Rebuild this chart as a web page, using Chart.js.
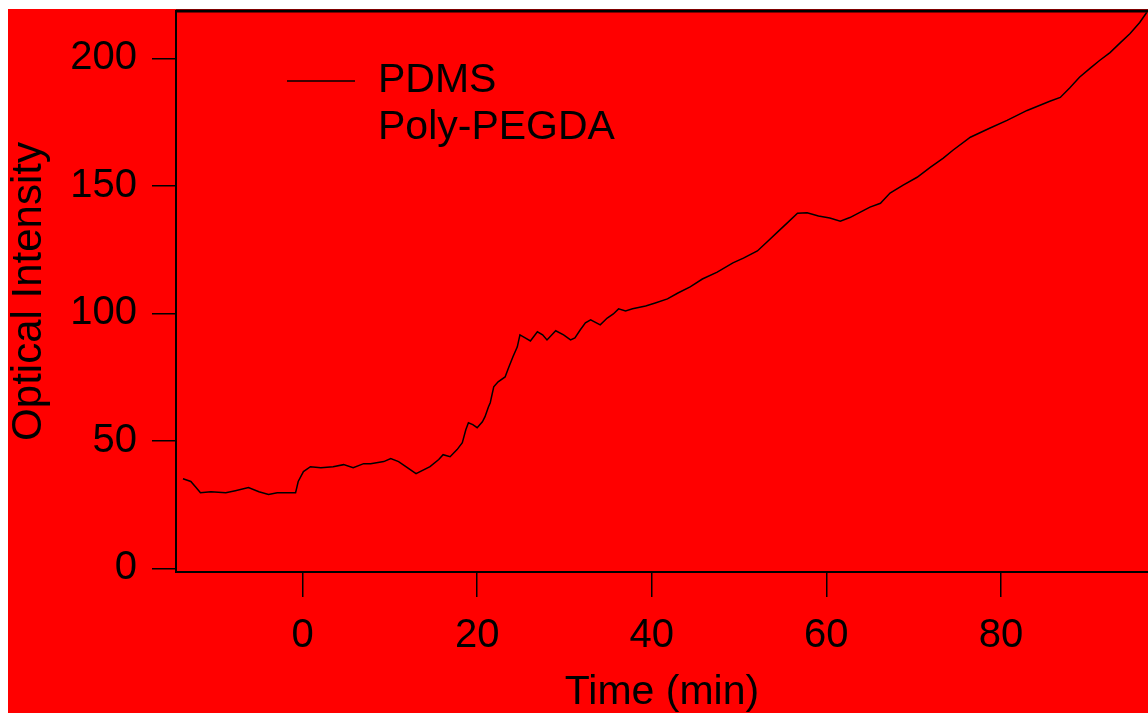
<!DOCTYPE html>
<html>
<head>
<meta charset="utf-8">
<title>Optical Intensity</title>
<script src="https://cdn.jsdelivr.net/npm/chart.js@4.4.1/dist/chart.umd.min.js"></script>
<style>
html, body { margin:0; padding:0; background:#ffffff; overflow:hidden; }
#plot { position:absolute; left:8px; top:9px; }
</style>
</head>
<body>
<canvas id="plot" width="1140" height="704"></canvas>
<script>
// ========================================
// Data
// ========================================

const timeMin = [
-13.7,-12.8,-12.2,-11.7,-10.5,-8.8,-7.7,-6.2,-5.0,-3.9,-2.9,-1.9,-0.8,-0.5,
0.1,0.9,2.1,3.5,4.7,5.8,7.0,7.8,9.3,10.1,11.0,12.0,13.0,14.6,15.6,16.1,16.9,
17.7,18.3,18.7,19.0,19.5,20.0,20.6,20.9,21.3,21.5,21.9,22.4,23.2,23.6,24.1,
24.6,24.9,25.5,26.1,26.9,27.5,28.0,29.0,29.9,30.7,31.2,31.8,32.4,33.0,34.1,
34.9,35.6,36.2,37.0,37.8,39.3,40.4,41.8,43.0,44.4,45.8,47.5,49.3,50.5,52.1,
53.2,54.4,55.5,56.7,57.8,59.1,60.4,61.6,62.7,63.9,65.0,66.2,67.3,68.8,70.4,
71.9,73.4,74.5,76.5,78.7,80.7,83.0,85.6,86.8,87.9,89.0,90.2,91.3,92.5,93.6,
94.8,95.9,96.7
];

const pdmsIntensity = [
35.2,34.1,31.7,29.7,30.1,29.7,30.5,31.7,30.1,29.0,29.7,29.7,29.7,34.1,
38.0,39.9,39.5,39.9,40.7,39.5,41.1,41.1,41.9,43.1,41.9,39.5,37.2,39.9,42.7,44.6,43.8,
46.6,49.3,54.4,57.1,56.4,55.2,57.5,59.5,63.4,65.0,71.2,73.2,75.1,78.7,83.0,
86.9,91.6,90.4,89.2,92.8,91.6,89.6,93.2,91.6,89.6,90.4,93.5,96.3,97.5,95.5,
98.2,99.8,101.8,101.0,101.8,102.9,104.1,105.7,108.0,110.4,113.5,116.2,119.8,121.7,124.5,
128.0,131.9,135.4,139.3,139.5,138.2,137.4,136.2,137.6,139.7,141.7,143.2,147.2,150.3,153.4,
157.3,160.9,164.0,169.1,172.6,175.7,179.6,183.2,184.7,188.5,192.6,196.1,199.2,202.3,205.9,
209.8,214.1,218.0
];

// second series is drawn in red on the red paper, so nothing of it can be read
const polyPegdaIntensity = [];

const seriesLabels = ["PDMS", "Poly-PEGDA"];
const seriesColors = ["#000000", "#ff0000"];

const xTickValues = [0, 20, 40, 60, 80];
const yTickValues = [0, 50, 100, 150, 200];

// ========================================
// Defaults
// ========================================

const FONT = "'Liberation Sans', Arial, sans-serif";

Chart.defaults.color = "#000000";
Chart.defaults.font.family = FONT;

const pdmsPoints = timeMin.map((t, i) => ({ x: t, y: pdmsIntensity[i] }));
const polyPoints = polyPegdaIntensity.map((v, i) => ({ x: timeMin[i], y: v }));

// ========================================
// Paper, top frame and legend
// ========================================

const paperPlugin = {
  id: "paper",
  beforeDraw(chart) {
    const ctx = chart.ctx;
    ctx.save();
    ctx.fillStyle = "#ff0000";
    ctx.fillRect(0, 0, chart.width, chart.height);
    ctx.restore();
  },
  afterDraw(chart) {
    const ctx = chart.ctx;
    const area = chart.chartArea;
    ctx.save();

    // frame line along the top
    ctx.strokeStyle = "#000000";
    ctx.lineWidth = 3;
    ctx.beginPath();
    ctx.moveTo(area.left, area.top);
    ctx.lineTo(area.right, area.top);
    ctx.stroke();

    // legend
    ctx.font = "41px " + FONT;
    ctx.textBaseline = "middle";
    ctx.textAlign = "left";
    chart.data.datasets.forEach((ds, i) => {
      const y = area.top + 70 + i * 47;
      const x = area.left + 111;
      ctx.strokeStyle = ds.borderColor;
      ctx.lineWidth = 1.5;
      ctx.beginPath();
      ctx.moveTo(x, y);
      ctx.lineTo(x + 68, y);
      ctx.stroke();
      ctx.fillStyle = "#000000";
      ctx.fillText(ds.label, x + 91, y);
    });

    ctx.restore();
  }
};

// ========================================
// Chart
// ========================================

new Chart(

document.getElementById("plot"),

{

type: "line",

data: {

datasets: [
  {
    label: seriesLabels[0],
    data: pdmsPoints,
    borderColor: seriesColors[0],
    borderWidth: 1.5,
    pointRadius: 0,
    tension: 0,
    fill: false
  },
  {
    label: seriesLabels[1],
    data: polyPoints,
    borderColor: seriesColors[1],
    borderWidth: 1.5,
    pointRadius: 0,
    tension: 0,
    fill: false
  }
]

},

options: {

responsive: false,
animation: false,
layout: { padding: { top: 2, left: 0, right: 0, bottom: 0 } },

plugins: {
  legend: { display: false },
  tooltip: { enabled: false }
},

scales: {

  x: {
    type: "linear",
    position: "bottom",
    min: -14.5,
    max: 96.85,
    afterBuildTicks: (scale) => { scale.ticks = xTickValues.map(v => ({ value: v })); },
    afterFit: (scale) => { scale.height = 141; scale.paddingLeft = 0; scale.paddingRight = 0; },
    grid: { drawOnChartArea: false, drawTicks: true, tickLength: 25, color: "#000000", lineWidth: 1.5 },
    border: { display: true, color: "#000000", width: 2 },
    ticks: { font: { size: 40 }, padding: 15, maxRotation: 0, autoSkip: false },
    title: { display: true, text: "Time (min)", font: { size: 41, lineHeight: 1 }, padding: 0 }
  },

  y: {
    type: "linear",
    position: "left",
    min: -1.4,
    max: 218.6,
    afterBuildTicks: (scale) => { scale.ticks = yTickValues.map(v => ({ value: v })); },
    afterFit: (scale) => { scale.width = 168; scale.paddingTop = 0; scale.paddingBottom = 0; },
    grid: { drawOnChartArea: false, drawTicks: true, tickLength: 24, color: "#000000", lineWidth: 1.5 },
    border: { display: true, color: "#000000", width: 2 },
    ticks: { font: { size: 40 }, padding: 15, autoSkip: false },
    title: { display: true, text: "Optical Intensity", font: { size: 42, lineHeight: 1 }, padding: 0 }
  }

}

},

plugins: [paperPlugin]

}

);
</script>
</body>
</html>
